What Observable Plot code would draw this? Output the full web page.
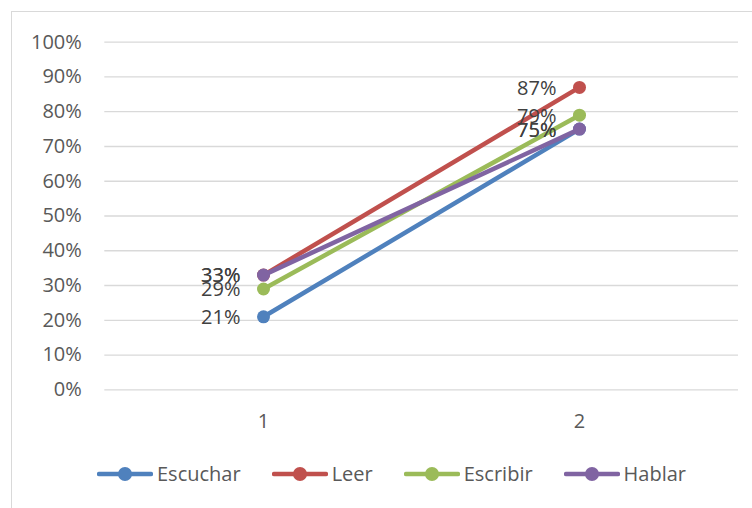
<!DOCTYPE html>
<html>
<head>
<meta charset="utf-8">
<script src="https://cdn.jsdelivr.net/npm/d3@7"></script>
<script src="https://cdn.jsdelivr.net/npm/@observablehq/plot@0.6"></script>
<style>
  html, body { margin: 0; padding: 0; background: #fff; }
  #wrap { position: relative; width: 752px; height: 508px; overflow: hidden; font-family: "Open Sans", sans-serif; }
  #frame { position: absolute; left: 11px; top: 11px; width: 760px; height: 520px; border-left: 1.5px solid #d9d9d9; border-top: 1.5px solid #d9d9d9; box-sizing: border-box; pointer-events: none; }
  #chart { position: absolute; left: 0; top: 0; }
  #legend { position: absolute; left: 97px; top: 460px; display: flex; align-items: center; gap: 31px; font-size: 20px; color: #595959; }
  .item { display: flex; align-items: center; }
  .item svg { margin-right: 4px; }
</style>
</head>
<body>
<div id="wrap">
  <div id="chart"></div>
  <div id="frame"></div>
  <div id="legend"></div>
</div>
<script>
const categories = [1, 2];
const seriesNames = ["Escuchar", "Leer", "Escribir", "Hablar"];
const seriesColors = ["#4F81BD", "#C0504D", "#9BBB59", "#8064A2"];
const escuchar = [0.21, 0.75];
const leer = [0.33, 0.87];
const escribir = [0.29, 0.79];
const hablar = [0.33, 0.75];
const yTicks = [0, 0.1, 0.2, 0.3, 0.4, 0.5, 0.6, 0.7, 0.8, 0.9, 1.0];

const seriesValues = [escuchar, leer, escribir, hablar];
const data = [];
seriesNames.forEach((s, i) => {
  categories.forEach((c, j) => data.push({series: s, cat: c, value: seriesValues[i][j]}));
});

const fmt = d3.format(".0%");
const marks = [
  Plot.ruleY(yTicks, {stroke: "#d9d9d9", strokeWidth: 1.3})
];
seriesNames.forEach(s => {
  const d = data.filter(r => r.series === s);
  marks.push(Plot.line(d, {x: "cat", y: "value", stroke: "series", strokeWidth: 4.5, strokeLinecap: "round"}));
  marks.push(Plot.dot(d, {x: "cat", y: "value", fill: "series", r: 6.5}));
});
marks.push(Plot.text(data, {x: "cat", y: "value", text: d => fmt(d.value), textAnchor: "end", dx: -23, dy: 1, fill: "#404040", fontSize: 20}));

const chart = Plot.plot({
  width: 752,
  height: 440,
  marginLeft: 104.3,
  marginRight: 14,
  marginTop: 41.7,
  marginBottom: 50.7,
  style: {fontFamily: "Open Sans, sans-serif", fontSize: "20px", color: "#595959", background: "transparent"},
  x: {type: "point", domain: categories, padding: 0.5, label: null, tickSize: 0, tickPadding: 24},
  y: {domain: [0, 1], ticks: yTicks, tickFormat: fmt, label: null, tickSize: 0, tickPadding: 23},
  color: {domain: seriesNames, range: seriesColors},
  marks
});
document.getElementById("chart").appendChild(chart);

const legend = document.getElementById("legend");
seriesNames.forEach((s, i) => {
  const item = document.createElement("div");
  item.className = "item";
  item.innerHTML = `<svg width="56" height="16"><line x1="2" y1="8" x2="54" y2="8" stroke="${seriesColors[i]}" stroke-width="4.5" stroke-linecap="round"/><circle cx="28" cy="8" r="7" fill="${seriesColors[i]}"/></svg><span>${s}</span>`;
  legend.appendChild(item);
});
</script>
</body>
</html>
